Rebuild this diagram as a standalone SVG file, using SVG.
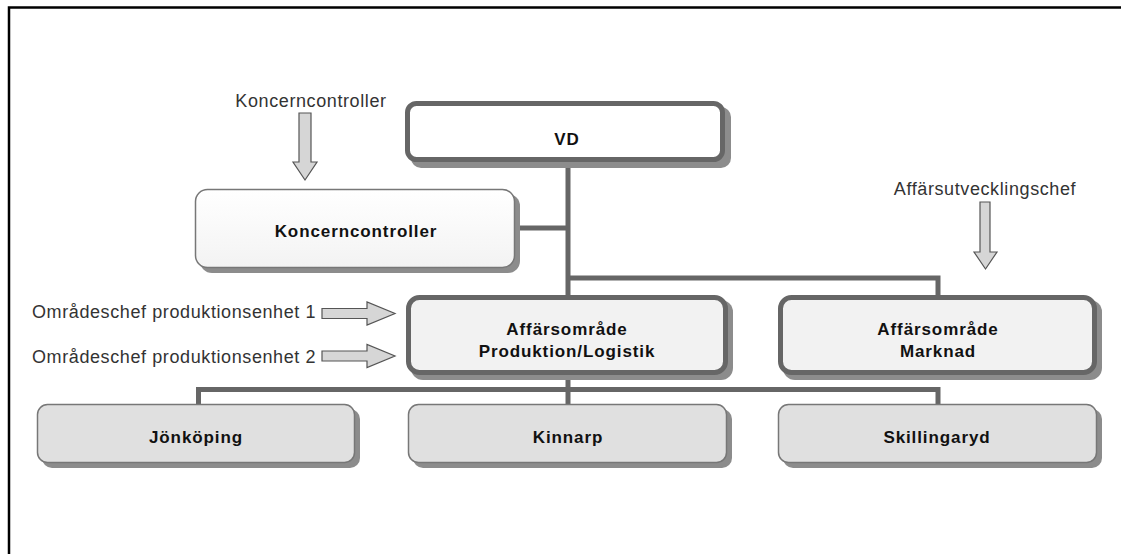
<svg xmlns="http://www.w3.org/2000/svg" width="1121" height="554" viewBox="0 0 1121 554">
  <style>
    .label { font-family: "Liberation Sans", Arial, sans-serif; font-size: 18px; fill: #333; letter-spacing: 0.6px; }
    .title { font-family: "Liberation Sans", Arial, sans-serif; font-size: 17px; font-weight: bold; fill: #111; text-anchor: middle; letter-spacing: 0.9px; }
    .shadow { fill: #8c8c8c; }
    .thick { stroke: #666; stroke-width: 5; }
    .thin { stroke: #777; stroke-width: 1.5; }
    .conn { stroke: #666; stroke-width: 5; fill: none; }
    .arrow { fill: #d6d6d6; stroke: #555; stroke-width: 1.2; stroke-linejoin: miter; }
  </style>
  <defs>
    <linearGradient id="gWhite" x1="0" y1="0" x2="0" y2="1">
      <stop offset="0" stop-color="#ffffff"/>
      <stop offset="1" stop-color="#f3f3f3"/>
    </linearGradient>
  </defs>

  <rect width="1121" height="554" fill="#ffffff"/>
  <!-- page frame (top and left edges) -->
  <path d="M9 554 V7.5 H1121" fill="none" stroke="#000" stroke-width="2.5"/>

  <!-- connectors -->
  <g id="connectors">
    <path class="conn" d="M568 162 V296"/>
    <path class="conn" d="M515 228 H568"/>
    <path class="conn" d="M568 278 H938 V297"/>
    <path class="conn" d="M568 375 V405"/>
    <path class="conn" d="M198.5 405 V389.5 H938 V405"/>
  </g>

  <g id="vd">
    <rect class="shadow" x="411" y="107" width="320" height="61" rx="10"/>
    <rect class="thick" x="407.5" y="103.5" width="315" height="56" rx="9" fill="#ffffff"/>
    <text class="title" x="567" y="145">VD</text>
  </g>

  <g id="koncerncontroller">
    <rect class="shadow" x="200" y="194" width="320" height="79" rx="12"/>
    <rect class="thin" x="195.5" y="189.5" width="319" height="78" rx="12" fill="url(#gWhite)"/>
    <text class="title" x="356" y="237">Koncerncontroller</text>
  </g>

  <g id="ao-produktion">
    <rect class="shadow" x="411" y="300" width="322" height="80" rx="12"/>
    <rect class="thick" x="408.5" y="297.5" width="317" height="75" rx="11" fill="#f2f2f2"/>
    <text class="title" x="567" y="335">Affärsområde</text>
    <text class="title" x="567" y="357">Produktion/Logistik</text>
  </g>

  <g id="ao-marknad">
    <rect class="shadow" x="783" y="300" width="319" height="80" rx="12"/>
    <rect class="thick" x="780.5" y="297.5" width="314" height="75" rx="11" fill="#f2f2f2"/>
    <text class="title" x="938" y="335">Affärsområde</text>
    <text class="title" x="938" y="357">Marknad</text>
  </g>

  <g id="jonkoping">
    <rect class="shadow" x="42" y="409" width="318" height="59" rx="10"/>
    <rect class="thin" x="37.5" y="404.5" width="317" height="58" rx="10" fill="#e0e0e0"/>
    <text class="title" x="196" y="443">Jönköping</text>
  </g>

  <g id="kinnarp">
    <rect class="shadow" x="413" y="409" width="319" height="59" rx="10"/>
    <rect class="thin" x="408.5" y="404.5" width="318" height="58" rx="10" fill="#e0e0e0"/>
    <text class="title" x="568" y="443">Kinnarp</text>
  </g>

  <g id="skillingaryd">
    <rect class="shadow" x="783" y="409" width="319" height="59" rx="10"/>
    <rect class="thin" x="778.5" y="404.5" width="318" height="58" rx="10" fill="#e0e0e0"/>
    <text class="title" x="937" y="443">Skillingaryd</text>
  </g>

  <!-- incoming roles -->
  <g id="in-koncerncontroller">
    <text class="label" x="311" y="107" text-anchor="middle">Koncerncontroller</text>
    <polygon class="arrow" points="299,113 311,113 311,162 317,162 305,180 293,162 299,162"/>
  </g>

  <g id="in-affarsutveckling">
    <text class="label" x="985" y="195" text-anchor="middle">Affärsutvecklingschef</text>
    <polygon class="arrow" points="980,202 990,202 990,252 997,252 985.5,269 974,252 980,252"/>
  </g>

  <g id="in-omrade1">
    <text class="label" x="32" y="318">Områdeschef produktionsenhet 1</text>
    <polygon class="arrow" points="322,308.5 367,308.5 367,302 395,313.5 367,325 367,318.5 322,318.5"/>
  </g>

  <g id="in-omrade2">
    <text class="label" x="32" y="363">Områdeschef produktionsenhet 2</text>
    <polygon class="arrow" points="322,351 367,351 367,344.5 395,356 367,367.5 367,361 322,361"/>
  </g>
</svg>
